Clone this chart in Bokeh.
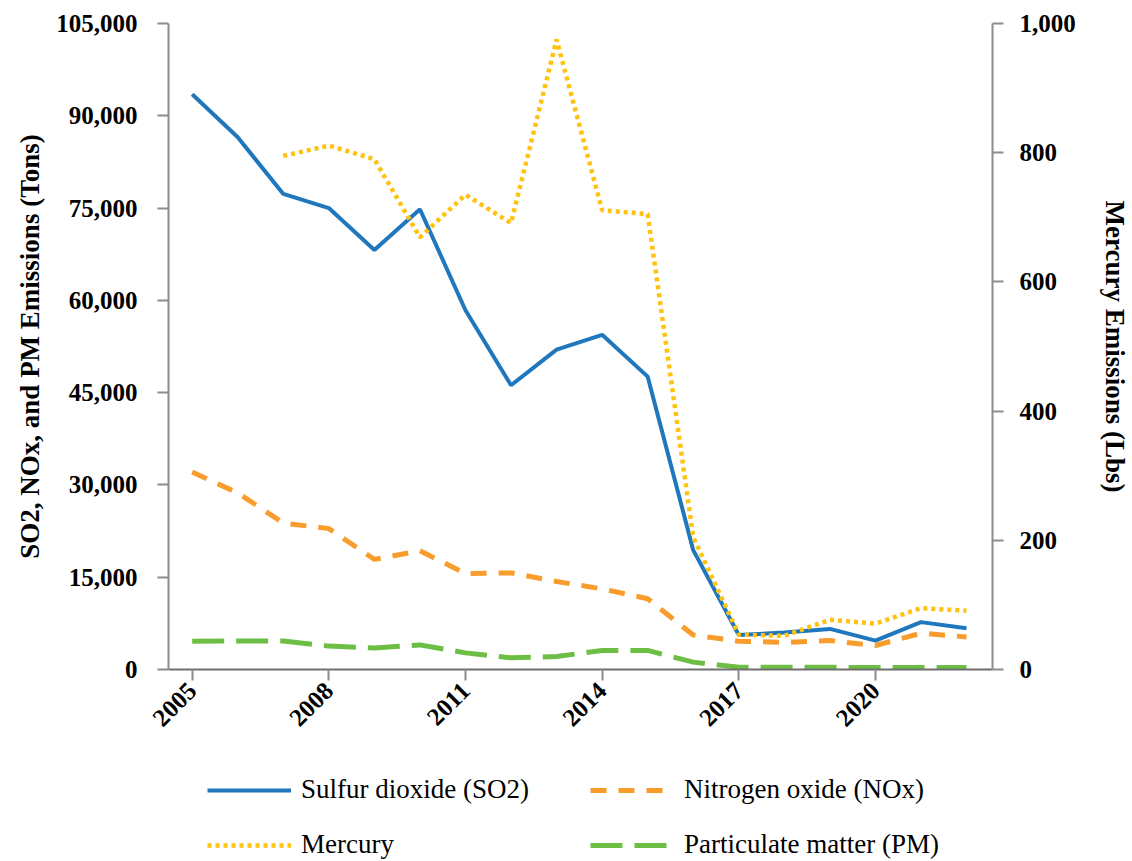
import math
from bokeh.plotting import figure
from bokeh.layouts import column
from bokeh.models import (Range1d, LinearAxis, FixedTicker, NumeralTickFormatter,
                          Legend, LegendItem)
from bokeh.embed import file_html
from bokeh.resources import INLINE

# ---- data ----
years = list(range(2005, 2023))
so2 = [93500, 86500, 77300, 75000, 68200, 74800, 58400, 46200, 52000, 54400,
       47600, 19400, 5600, 6000, 6600, 4700, 7700, 6700]
nox = [32100, 28700, 23800, 22900, 17900, 19300, 15600, 15700, 14300, 13100,
       11500, 5600, 4600, 4400, 4700, 3900, 5900, 5300]
pm = [4600, 4650, 4650, 3800, 3500, 4000, 2700, 1900, 2100, 3100,
      3100, 1200, 380, 350, 350, 330, 330, 330]
mercury_years = list(range(2007, 2023))
mercury = [795, 811, 790, 669, 735, 691, 975, 711, 705, 205, 54, 52, 77, 71, 95, 91]

x_ticks = [2005, 2008, 2011, 2014, 2017, 2020]
left_ticks = [0, 15000, 30000, 45000, 60000, 75000, 90000, 105000]
right_ticks = [0, 200, 400, 600, 800, 1000]

BLUE = "#1F77BE"
ORANGE = "#F89C2C"
YELLOW = "#FFC20E"
GREEN = "#6DBE45"
AXIS = "#8C8C8C"
SERIF = "Liberation Serif"

STYLES = {
    "so2": dict(line_color=BLUE, line_width=4),
    "nox": dict(line_color=ORANGE, line_width=5, line_dash="16 12"),
    "pm": dict(line_color=GREEN, line_width=5, line_dash="32 12"),
    "hg": dict(line_color=YELLOW, line_width=4.5, line_dash="4 4"),
}

p = figure(width=1132, height=745,
           x_range=Range1d(2004.48, 2022.57), y_range=Range1d(0, 105000),
           output_backend="svg", toolbar_location=None,
           min_border_left=168, min_border_right=132,
           min_border_top=23, min_border_bottom=76)
p.extra_y_ranges = {"hg": Range1d(0, 1000)}
p.outline_line_color = None
p.xgrid.visible = False
p.ygrid.visible = False

p.line(years, so2, **STYLES["so2"])
p.line(years, nox, **STYLES["nox"])
p.line(years, pm, **STYLES["pm"])
p.line(mercury_years, mercury, y_range_name="hg", **STYLES["hg"])

right = LinearAxis(y_range_name="hg")
p.add_layout(right, "right")


def style(ax):
    ax.axis_line_color = AXIS
    ax.axis_line_width = 2
    ax.major_tick_line_color = AXIS
    ax.major_tick_line_width = 2
    ax.major_tick_out = 11
    ax.major_tick_in = 0
    ax.minor_tick_line_color = None
    ax.major_label_text_font = SERIF
    ax.major_label_text_font_style = "bold"
    ax.major_label_text_font_size = "25px"
    ax.major_label_text_color = "black"
    ax.axis_label_text_font = SERIF
    ax.axis_label_text_font_style = "bold"
    ax.axis_label_text_font_size = "27px"
    ax.axis_label_text_color = "black"


xa = p.xaxis[0]
style(xa)
xa.axis_line_color = "#6E6E6E"
xa.ticker = FixedTicker(ticks=x_ticks)
xa.major_label_orientation = math.pi / 4
xa.major_label_standoff = 6

la = p.yaxis[0]
style(la)
la.ticker = FixedTicker(ticks=left_ticks)
la.formatter = NumeralTickFormatter(format="0,0")
la.axis_label = "SO2, NOx, and PM Emissions (Tons)"
la.major_label_standoff = 20
la.axis_label_standoff = 8

style(right)
right.ticker = FixedTicker(ticks=right_ticks)
right.formatter = NumeralTickFormatter(format="0,0")
right.axis_label = "Mercury Emissions (Lbs)"
right.major_label_standoff = 16
right.axis_label_standoff = 21

# ---- legend panel below (proxy lines use the same data, outside the view) ----
q = figure(width=1132, height=116, x_range=Range1d(0, 1), y_range=Range1d(0, 1),
           output_backend="svg", toolbar_location=None, min_border=0,
           x_axis_location=None, y_axis_location=None)
q.outline_line_color = None
q.grid.visible = False
k_so2 = q.line(years, so2, **STYLES["so2"])
k_nox = q.line(years, nox, **STYLES["nox"])
k_pm = q.line(years, pm, **STYLES["pm"])
k_hg = q.line(mercury_years, mercury, **STYLES["hg"])


def make_legend(items, x):
    return Legend(items=items, location=(x, 1), orientation="vertical",
                  glyph_width=84, glyph_height=26, label_height=26,
                  label_standoff=10, spacing=24, padding=0, margin=0,
                  border_line_color=None, background_fill_alpha=0,
                  label_text_font=SERIF, label_text_font_size="27px",
                  label_text_color="black")


leg1 = make_legend([LegendItem(label="Sulfur dioxide (SO2)", renderers=[k_so2]),
                    LegendItem(label="Mercury", renderers=[k_hg])], 39)
leg2 = make_legend([LegendItem(label="Nitrogen oxide (NOx)", renderers=[k_nox]),
                    LegendItem(label="Particulate matter (PM)", renderers=[k_pm])], 422)
q.add_layout(leg1, "center")
q.add_layout(leg2, "center")

layout = column(p, q, spacing=0)
open("out.html", "w").write(file_html(layout, INLINE))
